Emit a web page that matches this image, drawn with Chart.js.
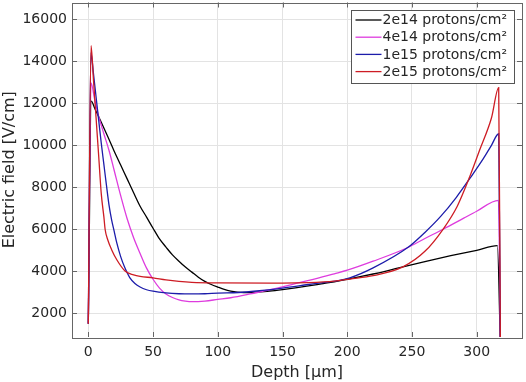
<!DOCTYPE html>
<html>
<head>
<meta charset="utf-8">
<script src="https://cdn.jsdelivr.net/npm/chart.js@4"></script>
<style>
  body { margin: 0; background: #fff; }
  canvas { display: block; }
</style>
</head>
<body>
<canvas id="chart" width="526" height="382"></canvas>
<script>
// values
const seriesLabels = ["2e14 protons/cm²", "4e14 protons/cm²", "1e15 protons/cm²", "2e15 protons/cm²"];

const depth2e14 = [0, 2.3, 5, 10, 15, 20, 25, 30, 35, 40, 45, 50, 55, 60, 65, 70, 75, 80, 85, 90, 95, 100, 105, 110, 115, 120, 125, 130, 140, 150, 160, 170, 180, 190, 200, 210, 220, 230, 243, 260, 280, 300, 316, 318.3];
const field2e14 = [1500, 12100, 11750, 11100, 10420, 9720, 9060, 8400, 7740, 7100, 6580, 6050, 5540, 5150, 4780, 4480, 4200, 3960, 3720, 3520, 3370, 3250, 3140, 3060, 3010, 2990, 2990, 3010, 3060, 3130, 3210, 3300, 3400, 3500, 3620, 3740, 3870, 4010, 4210, 4460, 4740, 5000, 5220, 500];

const depth4e14 = [0, 2.1, 5, 8, 12, 16, 20, 25, 30, 35, 40, 45, 50, 55, 60, 65, 70, 75, 80, 90, 100, 110, 125, 140, 150, 163, 176, 190, 200, 220, 246, 260, 274, 290, 300, 316.8, 318.3];
const field4e14 = [1500, 12970, 12150, 11380, 10550, 9750, 8800, 7600, 6500, 5600, 4850, 4150, 3620, 3200, 2920, 2750, 2640, 2580, 2550, 2580, 2660, 2740, 2920, 3120, 3260, 3460, 3650, 3880, 4050, 4480, 5110, 5560, 6000, 6530, 6860, 7380, 500];

const depth1e15 = [0, 2, 4, 6, 8, 10, 12, 14, 16, 18, 20, 22, 25, 28, 32, 36, 40, 45, 50, 60, 70, 80, 90, 100, 116, 130, 150, 170, 194, 202, 220, 247, 260, 272, 284, 295, 305, 311.4, 317, 318.3];
const field1e15 = [1500, 14400, 13400, 12300, 11200, 10100, 9100, 8100, 7150, 6450, 5900, 5350, 4700, 4200, 3700, 3420, 3250, 3120, 3050, 2970, 2930, 2920, 2930, 2960, 2990, 3060, 3200, 3370, 3570, 3686, 4160, 5140, 5850, 6600, 7500, 8450, 9350, 10000, 10550, 500];

const depth2e15 = [0, 2.1, 4, 6, 8, 10, 12, 13, 15, 18, 22, 28.6, 35, 40, 50, 60, 70, 80, 100, 150, 170, 190, 202, 220, 243, 260, 274, 285, 294.6, 302.3, 311.4, 317, 318.3];
const field2e15 = [1500, 14750, 13100, 11300, 9500, 7700, 6600, 5990, 5500, 5030, 4550, 4000, 3830, 3760, 3686, 3590, 3520, 3476, 3450, 3440, 3460, 3530, 3630, 3790, 4210, 4950, 6000, 7100, 8500, 9775, 11300, 12750, 500];

const xTicks = [0, 50, 100, 150, 200, 250, 300];
const yTicks = [2000, 4000, 6000, 8000, 10000, 12000, 14000, 16000];

const colors = ["#000000", "rgb(222,60,222)", "rgb(28,28,170)", "rgb(205,28,36)"];
const font = "DejaVu Sans";

// pair depth and field arrays into points
const toPoints = (xs, ys) => xs.map((x, i) => ({ x: x, y: ys[i] }));
const allDepths = [depth2e14, depth4e14, depth1e15, depth2e15];
const allFields = [field2e14, field4e14, field1e15, field2e15];

const datasets = seriesLabels.map((label, i) => ({
  label: label,
  data: toPoints(allDepths[i], allFields[i]),
  borderColor: colors[i],
  backgroundColor: colors[i],
  borderWidth: 1.3,
  pointRadius: 0,
  cubicInterpolationMode: "monotone",
  order: 3 - i, // red on top, like the picture
}));

// box round the plot, with small inward ticks on all four sides
const boxPlugin = {
  id: "box",
  afterDatasetsDraw(chart) {
    const { ctx, chartArea: a, scales } = chart;
    ctx.save();
    ctx.strokeStyle = "#666";
    ctx.lineWidth = 1;
    ctx.beginPath();
    xTicks.forEach((v) => {
      const px = Math.round(scales.x.getPixelForValue(v)) + 0.5;
      ctx.moveTo(px, a.bottom); ctx.lineTo(px, a.bottom - 5);
      ctx.moveTo(px, a.top); ctx.lineTo(px, a.top + 5);
    });
    yTicks.forEach((v) => {
      const py = Math.round(scales.y.getPixelForValue(v)) + 0.5;
      ctx.moveTo(a.left, py); ctx.lineTo(a.left + 5, py);
      ctx.moveTo(a.right, py); ctx.lineTo(a.right - 5, py);
    });
    ctx.stroke();
    ctx.strokeRect(Math.round(a.left) + 0.5, Math.round(a.top) + 0.5,
      Math.round(a.right - a.left), Math.round(a.bottom - a.top));
    ctx.restore();
  },
};

// legend box in the upper right corner of the plot
const legendPlugin = {
  id: "boxLegend",
  afterDraw(chart) {
    const ctx = chart.ctx;
    const x0 = 351.5, y0 = 10.5, w = 163, h = 73;
    ctx.save();
    ctx.fillStyle = "#fff";
    ctx.fillRect(x0, y0, w, h);
    ctx.strokeStyle = "#555";
    ctx.lineWidth = 1;
    ctx.strokeRect(x0, y0, w, h);
    ctx.font = "14px '" + font + "'";
    ctx.textBaseline = "middle";
    chart.data.datasets.forEach((ds, i) => {
      const y = y0 + 9.5 + i * 17.2;
      ctx.strokeStyle = ds.borderColor;
      ctx.lineWidth = 1.3;
      ctx.beginPath();
      ctx.moveTo(x0 + 4, y);
      ctx.lineTo(x0 + 30, y);
      ctx.stroke();
      ctx.fillStyle = "#262626";
      ctx.fillText(ds.label, x0 + 31, y + 0.5);
    });
    ctx.restore();
  },
};

new Chart(document.getElementById("chart"), {
  type: "line",
  data: { datasets: datasets },
  plugins: [boxPlugin, legendPlugin],
  options: {
    responsive: false,
    animation: false,
    layout: { padding: { top: 2.5, right: 4, left: 0, bottom: 0 } },
    plugins: { legend: { display: false }, tooltip: { enabled: false } },
    scales: {
      x: {
        type: "linear",
        min: -12.6,
        max: 335,
        afterBuildTicks: (s) => { s.ticks = xTicks.map((v) => ({ value: v })); },
        afterFit: (s) => { s.height = 45; s.paddingLeft = 0; s.paddingRight = 0; },
        grid: { color: "#e3e3e3", drawTicks: false },
        border: { display: false },
        ticks: {
          padding: 7,
          color: "#262626",
          font: { family: font, size: 14 },
          callback: (v) => String(v),
        },
        title: {
          display: true,
          text: "Depth [μm]",
          color: "#262626",
          padding: { top: 0, bottom: 0 },
          font: { family: font, size: 16 },
        },
      },
      y: {
        min: 870,
        max: 16800,
        afterBuildTicks: (s) => { s.ticks = yTicks.map((v) => ({ value: v })); },
        afterFit: (s) => { s.width = 72; s.paddingTop = 0; s.paddingBottom = 0; },
        grid: { color: "#e3e3e3", drawTicks: false },
        border: { display: false },
        ticks: {
          padding: 5,
          color: "#262626",
          font: { family: font, size: 14 },
          callback: (v) => String(v),
        },
        title: {
          display: true,
          text: "Electric field [V/cm]",
          color: "#262626",
          padding: { top: 0, bottom: 0 },
          font: { family: font, size: 16 },
        },
      },
    },
  },
});
</script>
</body>
</html>
